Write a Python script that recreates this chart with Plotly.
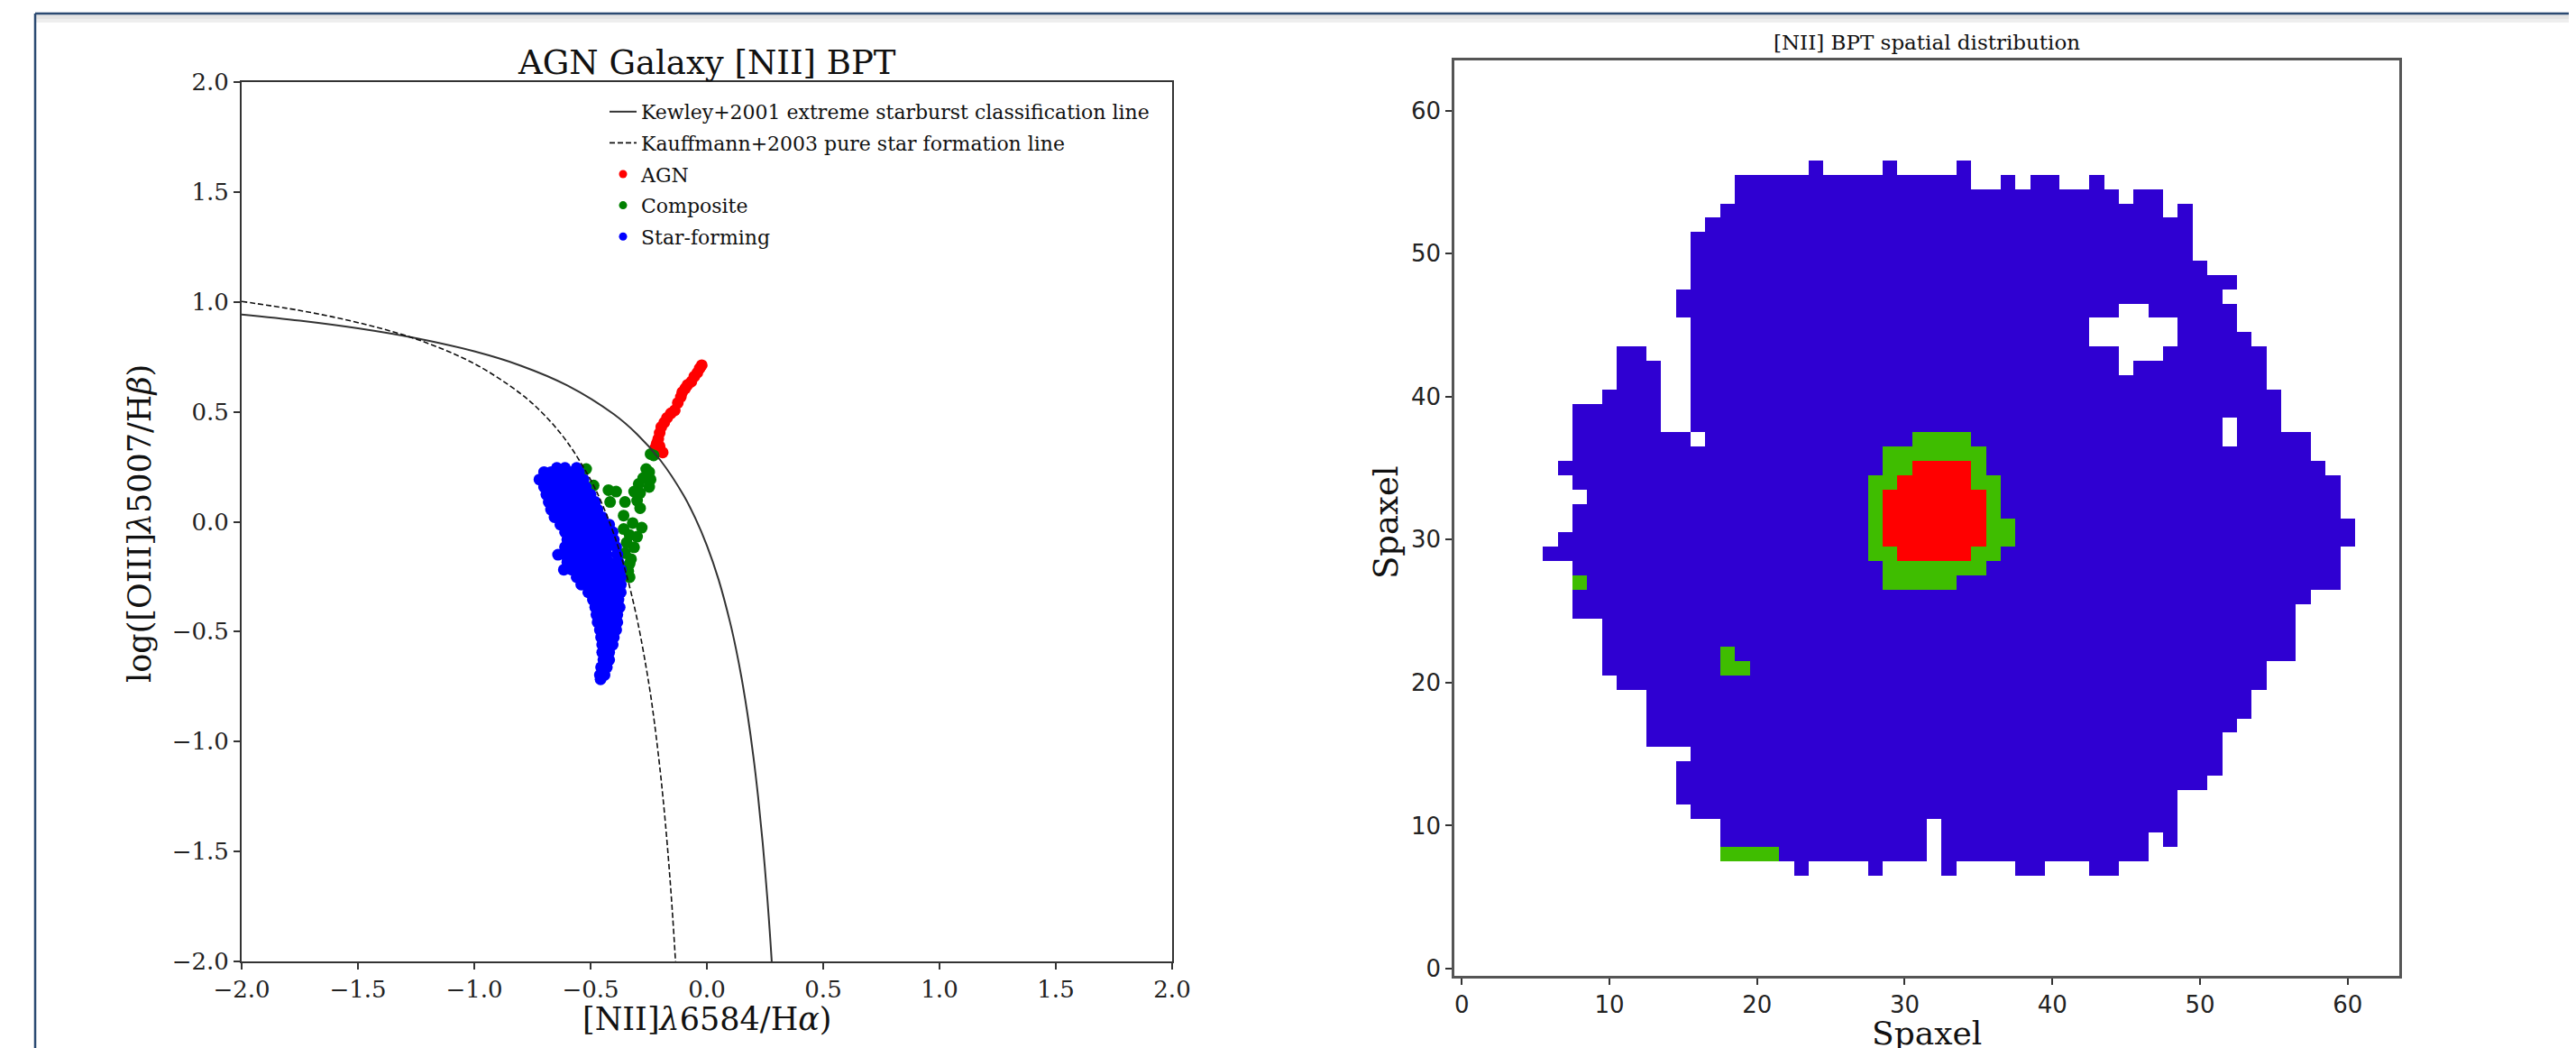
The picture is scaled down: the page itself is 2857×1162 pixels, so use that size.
import plotly.graph_objects as go

W, H = 2857, 1162          # size of the captured window
OFF = 8                    # page body margin that offsets the figure
FW, FH = W - OFF, H - OFF  # figure size so that it exactly fills the window

# ---------------- left panel: BPT diagram ----------------
KEWLEY_X = [-2.0, -1.75, -1.5, -1.25, -1.0, -0.8, -0.6, -0.4, -0.3, -0.2, -0.1, -0.05, 0.0, 0.05,
            0.1, 0.125, 0.15, 0.175, 0.2, 0.22, 0.24, 0.26, 0.27, 0.28, 0.285]
KEWLEY_Y = [0.943, 0.915, 0.880, 0.835, 0.775, 0.710, 0.620, 0.489, 0.398, 0.280, 0.120, 0.017, -0.108, -0.262,
            -0.459, -0.578, -0.716, -0.878, -1.069, -1.250, -1.462, -1.715, -1.860, -2.021, -2.107]

KAUFF_X = [-2.0, -1.75, -1.5, -1.25, -1.0, -0.8, -0.7, -0.6, -0.5, -0.45, -0.4, -0.35, -0.3, -0.25,
           -0.225, -0.2, -0.19, -0.18, -0.17, -0.16, -0.15, -0.14, -0.13]
KAUFF_Y = [1.002, 0.961, 0.906, 0.831, 0.719, 0.582, 0.487, 0.362, 0.191, 0.080, -0.056, -0.225, -0.443, -0.733,
           -0.918, -1.140, -1.242, -1.352, -1.473, -1.605, -1.750, -1.911, -2.089]

AGN_X = [-0.022, -0.031, -0.041, -0.054, -0.067, -0.083, -0.093, -0.106, -0.112, -0.125, -0.138,
         -0.155, -0.171, -0.183, -0.196, -0.203, -0.209, -0.216, -0.203, -0.190, -0.222]
AGN_Y = [0.712, 0.698, 0.678, 0.661, 0.637, 0.623, 0.607, 0.589, 0.568, 0.541, 0.507,
         0.493, 0.473, 0.452, 0.431, 0.404, 0.377, 0.356, 0.343, 0.315, 0.336]

COMP_X = [-0.242, -0.229, -0.519, -0.261, -0.248, -0.274, -0.242, -0.293, -0.248, -0.313, -0.423,
          -0.390, -0.287, -0.300, -0.416, -0.352, -0.287, -0.358, -0.319, -0.280, -0.358, -0.332,
          -0.300, -0.345, -0.313, -0.352, -0.326, -0.332, -0.338, -0.332, -0.487]
COMP_Y = [0.308, 0.302, 0.240, 0.240, 0.226, 0.199, 0.192, 0.172, 0.158, 0.137, 0.144,
          0.137, 0.131, 0.096, 0.090, 0.090, 0.062, 0.028, -0.006, -0.027, -0.033, -0.061,
          -0.068, -0.095, -0.116, -0.143, -0.170, -0.191, -0.225, -0.252, 0.165]

# star-forming spaxels, read row by row (y value, x values on that row)
SF_ROW_Y = [0.245, 0.226, 0.192, 0.158, 0.124, 0.090, 0.055, 0.021, -0.013, -0.047, -0.081, -0.115,
            -0.150, -0.184, -0.218, -0.252, -0.286, -0.321, -0.355, -0.389, -0.423, -0.457,
            -0.492, -0.526, -0.560, -0.594, -0.628, -0.662, -0.697, -0.717]
SF_ROW_X = [
    [-0.645, -0.61, -0.56],
    [-0.70, -0.67, -0.64, -0.61, -0.58, -0.55],
    [-0.72, -0.69, -0.66, -0.63, -0.60, -0.57, -0.54, -0.53],
    [-0.70, -0.67, -0.64, -0.61, -0.58, -0.55, -0.52],
    [-0.69, -0.66, -0.63, -0.60, -0.57, -0.54, -0.51, -0.50],
    [-0.68, -0.65, -0.62, -0.59, -0.56, -0.53, -0.50, -0.48],
    [-0.67, -0.64, -0.61, -0.58, -0.55, -0.52, -0.49, -0.47],
    [-0.655, -0.625, -0.595, -0.565, -0.535, -0.505, -0.475, -0.45],
    [-0.63, -0.60, -0.57, -0.54, -0.51, -0.48, -0.45, -0.42],
    [-0.61, -0.58, -0.55, -0.52, -0.49, -0.46, -0.43, -0.405],
    [-0.60, -0.57, -0.54, -0.51, -0.48, -0.45, -0.42, -0.40],
    [-0.61, -0.58, -0.55, -0.52, -0.49, -0.46, -0.43, -0.39],
    [-0.64, -0.61, -0.58, -0.55, -0.52, -0.49, -0.46, -0.43, -0.385],
    [-0.60, -0.57, -0.54, -0.51, -0.48, -0.45, -0.42, -0.38],
    [-0.615, -0.58, -0.55, -0.52, -0.49, -0.46, -0.43, -0.40, -0.37],
    [-0.56, -0.53, -0.50, -0.47, -0.44, -0.41, -0.37],
    [-0.54, -0.51, -0.48, -0.45, -0.42, -0.39, -0.37],
    [-0.51, -0.48, -0.45, -0.42, -0.39, -0.37],
    [-0.49, -0.46, -0.43, -0.40, -0.38],
    [-0.48, -0.45, -0.42, -0.39, -0.375],
    [-0.475, -0.445, -0.415, -0.385],
    [-0.47, -0.44, -0.41, -0.385],
    [-0.46, -0.43, -0.40, -0.39],
    [-0.455, -0.425, -0.40],
    [-0.45, -0.425, -0.405],
    [-0.45, -0.42],
    [-0.445, -0.42],
    [-0.455, -0.43],
    [-0.46, -0.44],
    [-0.457],
]

BPT_TICKS = [-2.0, -1.5, -1.0, -0.5, 0.0, 0.5, 1.0, 1.5, 2.0]

# ---------------- right panel: spatial map (64 x 64 spaxels) ----------------
# row index -> list of (first column, last column, class); later segments overwrite earlier ones
# S = star-forming, C = composite, A = AGN, - = no data
MAP_ROWS = {
    56: [(24, 24, 'S'), (29, 29, 'S'), (34, 34, 'S')],
    55: [(19, 34, 'S'), (37, 37, 'S'), (39, 40, 'S'), (43, 43, 'S')],
    54: [(19, 44, 'S'), (46, 47, 'S')],
    53: [(18, 47, 'S'), (49, 49, 'S')],
    52: [(17, 49, 'S')],
    51: [(16, 49, 'S')],
    50: [(16, 49, 'S')],
    49: [(16, 50, 'S')],
    48: [(16, 52, 'S')],
    47: [(15, 51, 'S')],
    46: [(15, 52, 'S'), (45, 46, '-')],
    45: [(16, 52, 'S'), (43, 48, '-')],
    44: [(16, 53, 'S'), (43, 48, '-')],
    43: [(11, 12, 'S'), (16, 54, 'S'), (45, 47, '-')],
    42: [(11, 13, 'S'), (16, 54, 'S'), (45, 45, '-')],
    41: [(11, 13, 'S'), (16, 54, 'S')],
    40: [(10, 13, 'S'), (16, 55, 'S')],
    39: [(8, 13, 'S'), (16, 55, 'S')],
    38: [(8, 13, 'S'), (16, 55, 'S'), (52, 52, '-')],
    37: [(8, 57, 'S'), (16, 16, '-'), (52, 52, '-'), (31, 34, 'C')],
    36: [(8, 57, 'S'), (29, 35, 'C')],
    35: [(7, 58, 'S'), (29, 35, 'C'), (31, 34, 'A')],
    34: [(8, 59, 'S'), (28, 36, 'C'), (30, 34, 'A')],
    33: [(9, 59, 'S'), (28, 36, 'C'), (29, 35, 'A')],
    32: [(8, 59, 'S'), (28, 36, 'C'), (29, 35, 'A')],
    31: [(8, 60, 'S'), (28, 37, 'C'), (29, 35, 'A')],
    30: [(7, 60, 'S'), (28, 37, 'C'), (29, 35, 'A')],
    29: [(6, 59, 'S'), (28, 36, 'C'), (30, 34, 'A')],
    28: [(8, 59, 'S'), (29, 35, 'C')],
    27: [(8, 59, 'S'), (8, 8, 'C'), (29, 33, 'C')],
    26: [(8, 57, 'S')],
    25: [(8, 56, 'S')],
    24: [(10, 56, 'S')],
    23: [(10, 56, 'S')],
    22: [(10, 56, 'S'), (18, 18, 'C')],
    21: [(10, 54, 'S'), (18, 19, 'C')],
    20: [(11, 54, 'S')],
    19: [(13, 53, 'S')],
    18: [(13, 53, 'S')],
    17: [(13, 52, 'S')],
    16: [(13, 51, 'S')],
    15: [(16, 51, 'S')],
    14: [(15, 51, 'S')],
    13: [(15, 50, 'S')],
    12: [(15, 48, 'S')],
    11: [(16, 48, 'S')],
    10: [(18, 48, 'S'), (32, 32, '-')],
    9: [(18, 48, 'S'), (32, 32, '-'), (47, 47, '-')],
    8: [(18, 46, 'S'), (18, 21, 'C'), (32, 32, '-')],
    7: [(23, 23, 'S'), (28, 28, 'S'), (33, 33, 'S'), (38, 39, 'S'), (43, 44, 'S')],
}
MAP_SIZE = 64
CLASS_VALUE = {'S': 1, 'C': 2, 'A': 3, '-': None}
MAP_TICKS = [0, 10, 20, 30, 40, 50, 60]

# ---------------- styles ----------------
SERIF = "DejaVu Serif, Liberation Serif, serif"
SANS = "DejaVu Sans, Liberation Sans, sans-serif"
C_AGN, C_COMP, C_SF = "#ff0000", "#008000", "#0000ff"
MAP_BLUE, MAP_GREEN, MAP_RED = "#2f00d2", "#3fbd00", "#ff0000"


def px(x):
    """window pixel x -> paper fraction"""
    return (x - OFF) / FW


def py(y):
    """window pixel y (from top) -> paper fraction"""
    return 1 - (y - OFF) / FH


fig = go.Figure()

# scatter points (drawn first, lines on top)
sf_x, sf_y = [], []
for yv, xs in zip(SF_ROW_Y, SF_ROW_X):
    for xv in xs:
        sf_x.append(xv)
        sf_y.append(yv)

fig.add_trace(go.Scatter(x=AGN_X, y=AGN_Y, mode="markers", showlegend=False,
                         marker=dict(color=C_AGN, size=13, line=dict(width=0)), xaxis="x", yaxis="y"))
fig.add_trace(go.Scatter(x=COMP_X, y=COMP_Y, mode="markers", showlegend=False,
                         marker=dict(color=C_COMP, size=13, line=dict(width=0)), xaxis="x", yaxis="y"))
fig.add_trace(go.Scatter(x=sf_x, y=sf_y, mode="markers", showlegend=False,
                         marker=dict(color=C_SF, size=13, line=dict(width=0)), xaxis="x", yaxis="y"))

fig.add_trace(go.Scatter(x=KEWLEY_X, y=KEWLEY_Y, mode="lines", line=dict(color="#333333", width=2),
                         line_shape="spline", name="Kewley+2001 extreme starburst classification line",
                         legendrank=1, legendgroup="g1", xaxis="x", yaxis="y"))
fig.add_trace(go.Scatter(x=KAUFF_X, y=KAUFF_Y, mode="lines",
                         line=dict(color="#111111", width=1.6, dash="6px,3px"),
                         line_shape="spline", name="Kauffmann+2003 pure star formation line",
                         legendrank=2, legendgroup="g2", xaxis="x", yaxis="y"))
# legend-only marker entries
for nm, col, rk in [("AGN", C_AGN, 3), ("Composite", C_COMP, 4), ("Star-forming", C_SF, 5)]:
    fig.add_trace(go.Scatter(x=[None], y=[None], mode="markers", name=nm, legendrank=rk,
                             legendgroup="g%d" % rk,
                             marker=dict(color=col, size=9), xaxis="x", yaxis="y"))

# spatial map
z = [[None] * MAP_SIZE for _ in range(MAP_SIZE)]
for row, segs in MAP_ROWS.items():
    for a, b, c in segs:
        for i in range(a, b + 1):
            z[row][i] = CLASS_VALUE[c]

fig.add_trace(go.Heatmap(z=z, x=list(range(MAP_SIZE)), y=list(range(MAP_SIZE)),
                         zmin=0.5, zmax=3.5, showscale=False, hoverongaps=False,
                         colorscale=[[0, MAP_BLUE], [1 / 3, MAP_BLUE], [1 / 3, MAP_GREEN],
                                     [2 / 3, MAP_GREEN], [2 / 3, MAP_RED], [1, MAP_RED]],
                         xaxis="x2", yaxis="y2", showlegend=False))

axis_common = dict(showgrid=False, zeroline=False, showline=True, mirror=True, automargin=False,
                   ticks="outside", ticklen=7, tickwidth=1.5, tickcolor="#333333")

fig.update_layout(
    template="none",
    width=FW, height=FH, autosize=False,
    margin=dict(l=0, r=0, t=0, b=0, pad=0, autoexpand=False),
    paper_bgcolor="white", plot_bgcolor="white",
    xaxis=dict(domain=[px(268), px(1300)], range=[-2, 2], anchor="y",
               tickvals=BPT_TICKS, tickformat=".1f",
               tickfont=dict(family=SERIF, size=26, color="#222222"),
               linecolor="#333333", linewidth=2, **axis_common),
    yaxis=dict(domain=[py(1066), py(91)], range=[-2, 2], anchor="x",
               tickvals=BPT_TICKS, tickformat=".1f",
               tickfont=dict(family=SERIF, size=26, color="#222222"),
               linecolor="#333333", linewidth=2, **axis_common),
    xaxis2=dict(domain=[px(1613), px(2661)], range=[-0.5, 63.5], anchor="y2",
                tickvals=MAP_TICKS, tickfont=dict(family=SANS, size=26, color="#222222"),
                linecolor="#555555", linewidth=2.5, **axis_common),
    yaxis2=dict(domain=[py(1082), py(67)], range=[-0.5, 63.5], anchor="x2",
                tickvals=MAP_TICKS, tickfont=dict(family=SANS, size=26, color="#222222"),
                linecolor="#555555", linewidth=2.5, **axis_common),
    legend=dict(x=px(671), y=py(103), xanchor="left", yanchor="top",
                bgcolor="rgba(0,0,0,0)", borderwidth=0, tracegroupgap=3,
                traceorder="grouped",
                font=dict(family=SERIF, size=22, color="#111111")),
    showlegend=True,
)

annotations = [
    dict(text="AGN Galaxy [NII] BPT", x=px(784), y=py(69), font=dict(family=SERIF, size=37, color="#111111")),
    dict(text="[NII] BPT spatial distribution", x=px(2137), y=py(47),
         font=dict(family=SERIF, size=23, color="#111111")),
    dict(text="[NII]<i>λ</i>6584/H<i>α</i>)", x=px(784), y=py(1130),
         font=dict(family=SERIF, size=35, color="#111111")),
    dict(text="log([OIII]<i>λ</i>5007/H<i>β</i>)", x=px(155), y=py(581), textangle=-90,
         font=dict(family=SERIF, size=35, color="#111111")),
    dict(text="Spaxel", x=px(2137), y=py(1145), font=dict(family=SERIF, size=36, color="#111111"),
         borderpad=0),
    dict(text="Spaxel", x=px(1537), y=py(579), textangle=-90,
         font=dict(family=SERIF, size=37, color="#111111")),
]
for a in annotations:
    a.update(xref="paper", yref="paper", showarrow=False, xanchor="center", yanchor="middle")
fig.update_layout(annotations=annotations)

# notebook frame around the figure
shapes = [
    dict(type="rect", x0=px(40), x1=1, y0=py(25), y1=py(16), fillcolor="#eeeeee", line=dict(width=0),
         layer="below"),
    dict(type="rect", x0=px(40), x1=1, y0=py(21), y1=py(16), fillcolor="#e4e4e4", line=dict(width=0),
         layer="below"),
    dict(type="line", x0=px(39), x1=1, y0=py(15), y1=py(15), line=dict(color="#2b4a72", width=2.5)),
    dict(type="line", x0=px(39), x1=px(39), y0=0, y1=py(15), line=dict(color="#2b4a72", width=2.5)),
]
for s in shapes:
    s.update(xref="paper", yref="paper")
fig.update_layout(shapes=shapes)

fig.write_html("out.html")
